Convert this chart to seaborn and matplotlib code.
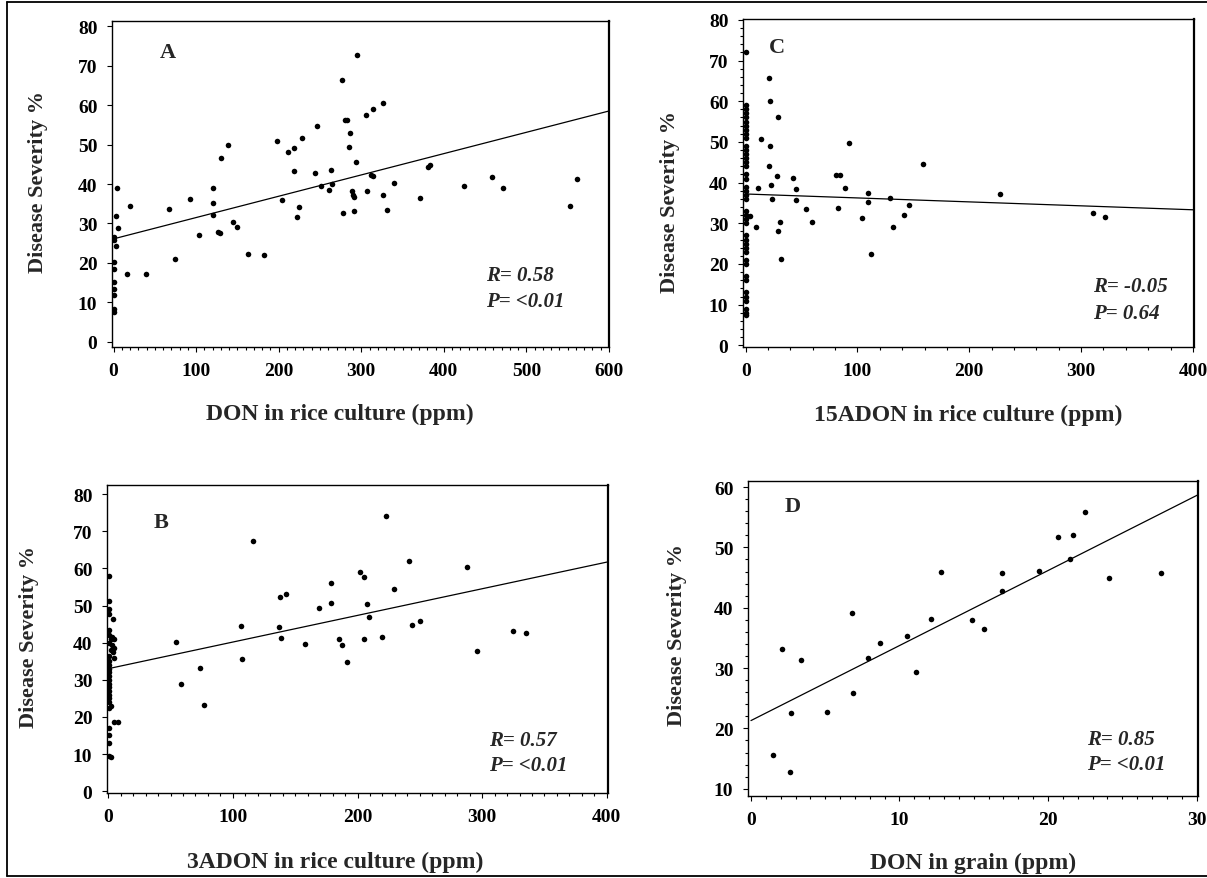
import numpy as np
import pandas as pd
import seaborn as sns
import matplotlib.pyplot as plt
from matplotlib.lines import Line2D
from matplotlib.ticker import MultipleLocator

# panel A: DON in rice culture vs disease severity
a_x = [294.5, 276.8, 326, 314.6, 305.5, 280, 283, 285.9, 246.6, 228, 197.8, 218, 211, 285,
       138.9, 130.7, 294, 383.6, 380.7, 218.4, 244.2, 263.9, 311.8, 314.6, 457.8, 560.8, 340,
       424.3, 471.7, 251, 264, 261.5, 307, 288.8, 290, 291, 326, 371.6, 204.5, 224, 553, 331,
       291, 278, 221.7, 92, 120, 120, 121, 66.6, 19.6, 3.8, 3.4, 4.8, 145, 149.4, 126.4, 128.8,
       103, 0, 0, 2.4, 162.8, 182, 74.7, 16.3, 39.7, 0, 0, 0, 0, 0, 0, 0]
a_y = [72.7, 66.3, 60.6, 58.9, 57.5, 56.3, 56.3, 52.9, 54.7, 51.7, 51, 49.2, 48, 49.3,
       49.9, 46.6, 45.6, 44.9, 44.4, 43.3, 42.9, 43.6, 42.3, 42, 41.7, 41.2, 40.3,
       39.5, 38.9, 39.6, 39.9, 38.6, 38.1, 38.2, 37.2, 36.7, 37.2, 36.4, 36, 34.1, 34.4, 33.5,
       33.2, 32.6, 31.7, 36.2, 38.9, 35.3, 32.2, 33.6, 34.5, 38.9, 31.9, 28.9, 30.3, 29, 27.8, 27.5,
       27.2, 26.5, 25.9, 24.4, 22.2, 21.9, 20.9, 17.2, 17.2, 20.2, 18.5, 15.2, 13.5, 11.8, 8.4, 7.6]

# panel C: 15ADON in rice culture
c_x = [0] * 41 + [20.8, 21.5, 29, 13.9, 92, 21.5, 20.5, 158.5, 28.4, 80.8, 84.3, 42, 22.2,
                  11.1, 88.5, 44.7, 227.6, 109, 109, 23.2, 44.7, 129.4, 54, 82.6, 146.4, 3.8,
                  141.9, 104.4, 311, 321, 30.5, 59.7, 9, 132.2, 29, 112, 31.9]
c_y = [72, 59, 58, 57, 56, 55, 54, 53, 52, 51, 49, 48, 47, 46, 45, 44, 42, 41, 39, 38, 37,
       36, 33, 32, 31, 30, 27, 26, 25, 24, 23, 21, 20, 17, 16, 13, 12, 11, 9, 8, 7.5] + \
      [65.7, 60, 56, 50.7, 49.7, 49.1, 44.2, 44.6, 41.6, 41.9, 41.9, 41.1, 39.4,
       38.7, 38.7, 38.4, 37.1, 37.4, 35.2, 36, 35.7, 36.2, 33.5, 33.8, 34.4, 31.8,
       32.1, 31.4, 32.6, 31.5, 30.4, 30.4, 29.1, 29.2, 28.1, 22.4, 21.2]

# panel B: 3ADON in rice culture
b_x = [222.9, 115.9, 241.3, 287.6, 202.2, 205.1, 178.7, 228.9, 137.5, 142.6, 178.7, 207.3,
       169.2, 209.6, 106.4, 137.2, 243.8, 250.2, 324.5, 335, 139, 184.8, 205.4, 219.4, 54.3,
       158, 187.3, 295.6, 107.6, 191.4, 73.3, 58.4, 76.5,
       1, 1, 1, 1, 4, 1, 1, 2, 3, 5, 1, 3, 5, 2, 4, 5, 1, 1, 0.5, 1, 1, 1, 1, 1, 1, 1, 1, 1,
       1, 2, 1, 5, 8, 1, 1, 1, 1, 2]
b_y = [74.2, 67.5, 61.9, 60.5, 59.1, 57.8, 56, 54.4, 52.3, 53, 50.7, 50.5,
       49.4, 47, 44.6, 44.3, 44.9, 45.9, 43.2, 42.6, 41.3, 41, 40.9, 41.6, 40.3,
       39.6, 39.5, 37.7, 35.6, 34.7, 33.1, 29, 23.3,
       58, 51.3, 49, 47.7, 46.3, 43.5, 42, 41, 41.5, 41, 40, 39.5, 38.5, 38, 37.5, 36, 36.5, 35,
       34, 33, 32, 31, 30, 29, 28, 27, 26, 25, 24, 23, 22.5, 18.7, 18.7, 17, 15, 13, 9.5, 9.2]

# panel D: DON in grain
d_x = [22.5, 20.7, 21.7, 21.5, 12.8, 16.9, 19.4, 27.6, 24.1, 16.9, 6.8, 12.1, 14.9, 15.7,
       10.5, 8.7, 2.1, 3.4, 7.9, 11.1, 6.9, 2.7, 5.1, 1.5, 2.6]
d_y = [55.9, 51.7, 52, 48, 46, 45.8, 46.1, 45.8, 44.9, 42.7, 39.1, 38.1, 38, 36.4,
       35.3, 34.1, 33.2, 31.3, 31.6, 29.4, 25.9, 22.6, 22.8, 15.6, 12.8]

# fitted lines (intercept, slope)
fits = {"A": (26.1, 0.054), "B": (33.0, 0.0718), "C": (37.2, -0.0097), "D": (21.3, 1.243)}
stats = {"A": ("0.58", "<0.01"), "B": ("0.57", "<0.01"), "C": ("-0.05", "0.64"), "D": ("0.85", "<0.01")}

sns.set_theme(style="white")
plt.rcParams['font.family'] = ['Liberation Serif', 'DejaVu Serif']
plt.rcParams['font.weight'] = 'bold'

fig = plt.figure(figsize=(12.07, 8.79), dpi=100)
W, H = 1207, 879

def box(l, t, r, b):
    return [l / W, 1 - b / H, (r - l) / W, (b - t) / H]

# name, x, y, axes box, xlim, ylim, x major/minor, y major/minor, xlabel, xlabel pos,
# ylabel pos, letter pos, stats pos
panels = [
    ("A", a_x, a_y, box(112, 22, 609, 348), (-1.9, 600), (-1.3, 81.3), 100, 10, 10, None,
     "DON in rice culture (ppm)", (0.459, -0.205), (-0.149, 0.51), (0.097, 0.905), (0.752, 0.22)),
    ("C", c_x, c_y, box(743, 20, 1194, 348), (-2.4, 401), (-0.4, 80.2), 100, 20, 10, 2,
     "15ADON in rice culture (ppm)", (0.5, -0.204), (-0.162, 0.445), (0.058, 0.915), (0.776, 0.185)),
    ("B", b_x, b_y, box(107, 486, 608, 794), (-1, 401), (-0.5, 82.5), 100, 10, 10, None,
     "3ADON in rice culture (ppm)", (0.455, -0.221), (-0.155, 0.51), (0.093, 0.88), (0.762, 0.172)),
    ("D", d_x, d_y, box(748, 482, 1198, 797), (-0.2, 30.1), (8.8, 61), 10, 1, 10, 2,
     "DON in grain (ppm)", (0.5, -0.21), (-0.158, 0.514), (0.081, 0.92), (0.754, 0.18)),
]

for name, xs, ys, pos, xlim, ylim, xmaj, xmin, ymaj, ymin, xlabel, xlpos, ylpos, lpos, spos in panels:
    ax = fig.add_axes(pos)
    df = pd.DataFrame({"x": xs, "y": ys})
    sns.scatterplot(data=df, x="x", y="y", ax=ax, color="black", s=16, edgecolor="black",
                    linewidth=0, zorder=3)
    b0, b1 = fits[name]
    lx = np.array([max(0, xlim[0]), xlim[1]])
    sns.lineplot(x=lx, y=b0 + b1 * lx, ax=ax, color="black", linewidth=0.9)
    ax.set_xlim(*xlim)
    ax.set_ylim(*ylim)
    ax.xaxis.set_major_locator(MultipleLocator(xmaj))
    ax.xaxis.set_minor_locator(MultipleLocator(xmin))
    ax.yaxis.set_major_locator(MultipleLocator(ymaj))
    if ymin:
        ax.yaxis.set_minor_locator(MultipleLocator(ymin))
    ax.tick_params(which="major", direction="out", length=3.5, width=0.8, colors="black",
                   labelsize=14)
    ax.tick_params(which="minor", direction="out", length=2, width=0.8, colors="black")
    ax.tick_params(axis="x", which="both", bottom=True, pad=7)
    ax.tick_params(axis="y", which="both", left=True, pad=7)
    for lab in ax.get_xticklabels() + ax.get_yticklabels():
        lab.set_fontweight("bold")
    for sp in ax.spines.values():
        sp.set_color("black")
        sp.set_linewidth(1.0)
    ax.spines["right"].set_linewidth(1.6)
    ax.set_xlabel(xlabel, fontsize=17, fontweight="bold")
    ax.xaxis.set_label_coords(*xlpos)
    ax.xaxis.label.set_va("center")
    ax.set_ylabel("Disease Severity %", fontsize=16, fontweight="bold")
    ax.yaxis.set_label_coords(*ylpos)
    ax.yaxis.label.set_va("center")
    ax.text(*lpos, name, transform=ax.transAxes, fontsize=16, fontweight="bold",
            ha="left", va="center")
    r, p = stats[name]
    ax.text(spos[0], spos[1], f"R= {r}", transform=ax.transAxes, fontsize=15,
            fontweight="bold", fontstyle="italic", ha="left", va="center")
    ax.text(spos[0], spos[1] - 0.08, f"P= {p}", transform=ax.transAxes, fontsize=15,
            fontweight="bold", fontstyle="italic", ha="left", va="center")

# outer frame: top, left and bottom edges
for xs, ys in [((7, 1207), (3, 3)), ((7, 7), (3, 877)), ((7, 1207), (877, 877))]:
    fig.lines.append(Line2D([x / W for x in xs], [1 - y / H for y in ys],
                            transform=fig.transFigure, color="black", linewidth=1.3))

plt.savefig("out.png", dpi=100)
